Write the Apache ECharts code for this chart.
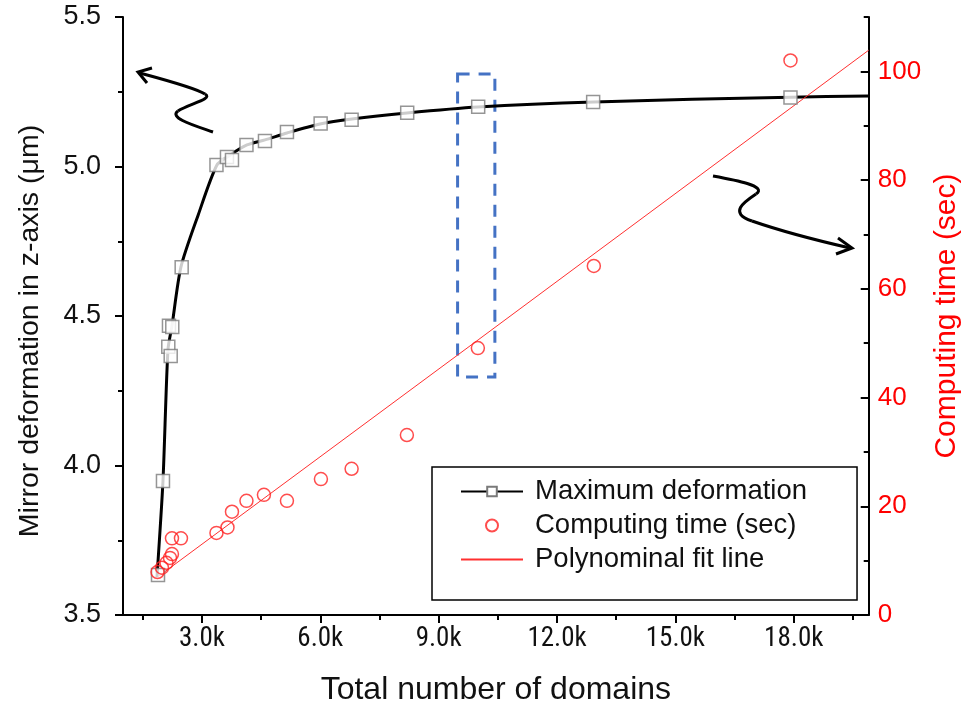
<!DOCTYPE html>
<html>
<head>
<meta charset="utf-8">
<script src="https://cdn.jsdelivr.net/npm/echarts@6/dist/echarts.min.js"></script>
<style>html,body{margin:0;padding:0;background:#fff}#c{width:970px;height:719px}</style>
</head>
<body>
<div id="c"></div>
<script>
// ---- data ----
const domainsDef = [1887, 2013, 2148, 2209, 2165, 2249, 2487, 3369, 3635, 3762, 4129, 4598, 5155, 6009, 6794, 8203, 10002, 12916, 17917];
const maxDeformation = [3.634, 3.948, 4.397, 4.366, 4.467, 4.463, 4.663, 5.005, 5.032, 5.022, 5.072, 5.085, 5.115, 5.144, 5.156, 5.180, 5.200, 5.216, 5.231];

const curveDomains = [1861, 2013, 2139, 2241, 2469, 2906, 3381, 3711, 4141, 4598, 5155, 5991, 6801, 8195, 9994, 12933, 17917, 19900];
const curveDeformation = [3.627, 3.948, 4.386, 4.467, 4.664, 4.838, 5.005, 5.038, 5.072, 5.089, 5.112, 5.142, 5.159, 5.179, 5.199, 5.216, 5.232, 5.236];

const domainsTime = [1874, 1988, 2102, 2191, 2241, 2241, 2469, 3369, 3648, 3762, 4129, 4572, 5155, 6016, 6794, 8195, 9994, 12933, 17917];
const computingTime = [7.9, 8.7, 9.6, 10.5, 11.2, 14.1, 14.1, 15.1, 16.1, 19.0, 21.0, 22.1, 21.0, 25.0, 26.9, 33.1, 49.1, 64.2, 102.0];

const fitDomains = [1880, 10000, 19900];
const fitTime = [7.0, 50.6, 103.9];

const xMajorTicks = [3000, 6000, 9000, 12000, 15000, 18000];
const xMinorTicks = [1500, 4500, 7500, 10500, 13500, 16500, 19500];
const rightMajorTicks = [0, 20, 40, 60, 80, 100];
const rightMinorTicks = [10, 30, 50, 70, 90, 110];

const highlightBox = [[9480, 5.309], [10425, 4.296]];

const zip = (a, b) => a.map((v, i) => [v, b[i]]);

const FONT = "'Liberation Sans', Arial, sans-serif";
const TXT = '#111';

function bez(p) {
  return {type: 'bezierCurve', z: 10, silent: true,
    shape: {x1: p[0], y1: p[1], cpx1: p[2], cpy1: p[3], cpx2: p[4], cpy2: p[5], x2: p[6], y2: p[7]},
    style: {fill: null, stroke: '#000', lineWidth: 3}};
}

const chart = echarts.init(document.getElementById('c'), null, {renderer: 'canvas'});
chart.setOption({
  backgroundColor: '#fff',
  animation: false,
  grid: {left: 123, right: 101, top: 17, bottom: 104},
  xAxis: [
    {
      type: 'value', min: 1000, max: 19900, position: 'bottom',
      name: 'Total number of domains', nameLocation: 'middle', nameGap: 59,
      nameTextStyle: {fontSize: 32, color: TXT, fontFamily: FONT},
      axisLine: {show: true, lineStyle: {color: '#000', width: 2}},
      axisTick: {show: true, customValues: xMajorTicks, length: 8, lineStyle: {color: '#000', width: 2}},
      axisLabel: {customValues: xMajorTicks, margin: 11, fontSize: 27, color: TXT,
        fontWeight: 'normal condensed',
        fontFamily: "Roboto, sans-serif",
        formatter: v => (v / 1000).toFixed(1) + 'k'},
      splitLine: {show: false}
    },
    {
      type: 'value', min: 1000, max: 19900, position: 'bottom',
      axisLine: {show: false},
      axisTick: {show: true, customValues: xMinorTicks, length: 5, lineStyle: {color: '#000', width: 2}},
      axisLabel: {show: false},
      splitLine: {show: false}
    }
  ],
  yAxis: [
    {
      type: 'value', min: 3.5, max: 5.5, interval: 0.5, position: 'left',
      name: 'Mirror deformation in z-axis (\u03bcm)', nameLocation: 'middle', nameGap: 78, nameRotate: 90,
      nameTextStyle: {fontSize: 28.5, color: TXT, fontFamily: FONT, padding: [0, 30, 0, 0]},
      axisLine: {show: true, lineStyle: {color: '#000', width: 2}},
      axisTick: {show: true, length: 8, lineStyle: {color: '#000', width: 2}},
      minorTick: {show: true, splitNumber: 2, length: 5, lineStyle: {color: '#000', width: 2}},
      axisLabel: {margin: 22, fontSize: 27, color: TXT, fontFamily: FONT, formatter: v => v.toFixed(1)},
      splitLine: {show: false}, minorSplitLine: {show: false}
    },
    {
      type: 'value', min: 0, max: 110, position: 'right',
      name: 'Computing time (sec)', nameLocation: 'middle', nameGap: 60, nameRotate: 90,
      nameTextStyle: {fontSize: 30, color: '#ff0000', fontFamily: FONT},
      axisLine: {show: true, lineStyle: {color: '#000', width: 2}},
      axisTick: {show: true, inside: true, customValues: rightMajorTicks, length: 8, lineStyle: {color: '#000', width: 2}},
      axisLabel: {customValues: rightMajorTicks, margin: 9, fontSize: 26, color: '#ff0000', fontFamily: FONT},
      splitLine: {show: false}
    },
    {
      type: 'value', min: 0, max: 110, position: 'right',
      axisLine: {show: false},
      axisTick: {show: true, inside: true, customValues: rightMinorTicks, length: 5, lineStyle: {color: '#000', width: 2}},
      axisLabel: {show: false},
      splitLine: {show: false}
    }
  ],
  legend: {
    orient: 'vertical', left: 432, top: 467,
    borderColor: '#000', borderWidth: 1.5, borderRadius: 0,
    padding: [9, 50, 25, 28],
    itemWidth: 62, itemHeight: 12, itemGap: 3,
    textStyle: {fontSize: 27.5, color: TXT, fontFamily: FONT, lineHeight: 31, padding: [0, 0, 0, 7]},
    data: [
      {name: 'Maximum deformation'},
      {name: 'Computing time (sec)'},
      {name: 'Polynominal fit line', itemStyle: {opacity: 0}}
    ]
  },
  series: [
    {
      name: 'Maximum deformation', type: 'line', xAxisIndex: 0, yAxisIndex: 0,
      data: zip(curveDomains, curveDeformation),
      smooth: 0.25,
      symbol: 'rect', showSymbol: false, symbolSize: 12,
      lineStyle: {color: '#000', width: 3},
      itemStyle: {color: '#fff', borderColor: '#7a7a7a', borderWidth: 1.5},
      z: 2
    },
    {
      name: 'Maximum deformation', type: 'scatter', xAxisIndex: 0, yAxisIndex: 0,
      data: zip(domainsDef, maxDeformation),
      symbol: 'rect', symbolSize: 13,
      itemStyle: {color: '#fff', borderColor: '#7a7a7a', borderWidth: 1.5},
      z: 4,
      markArea: {
        silent: true,
        itemStyle: {color: 'rgba(0,0,0,0)', borderColor: '#4472c4', borderWidth: 3, borderType: [12, 9]},
        data: [[{coord: highlightBox[0]}, {coord: highlightBox[1]}]]
      }
    },
    {
      name: 'Computing time (sec)', type: 'scatter', xAxisIndex: 0, yAxisIndex: 1,
      data: zip(domainsTime, computingTime),
      symbol: 'circle', symbolSize: 13,
      itemStyle: {color: 'rgba(255,255,255,0)', borderColor: '#ff2020', borderWidth: 1.5},
      z: 5
    },
    {
      name: 'Polynominal fit line', type: 'line', xAxisIndex: 0, yAxisIndex: 1,
      data: zip(fitDomains, fitTime),
      symbol: 'none', showSymbol: false,
      lineStyle: {color: '#ff3030', width: 1},
      itemStyle: {color: '#ff3030'},
      z: 3
    }
  ],
  graphic: [
    bez([213,132, 196,126, 168,118, 178,111]),
    bez([178,111, 188,104, 214,99, 205,94]),
    bez([205,94, 196,88, 166,80, 140,73]),
    {type: 'polyline', z: 10, silent: true, shape: {points: [[152,68],[138,72],[147,83]]}, style: {fill: null, stroke: '#000', lineWidth: 3}},
    bez([713,176, 735,180, 768,186, 756,194]),
    bez([756,194, 744,202, 728,213, 752,221]),
    bez([752,221, 778,230, 815,240, 850,248]),
    {type: 'polyline', z: 10, silent: true, shape: {points: [[838,238],[852,248],[836,254]]}, style: {fill: null, stroke: '#000', lineWidth: 3}}
  ]
});
</script>
</body>
</html>
